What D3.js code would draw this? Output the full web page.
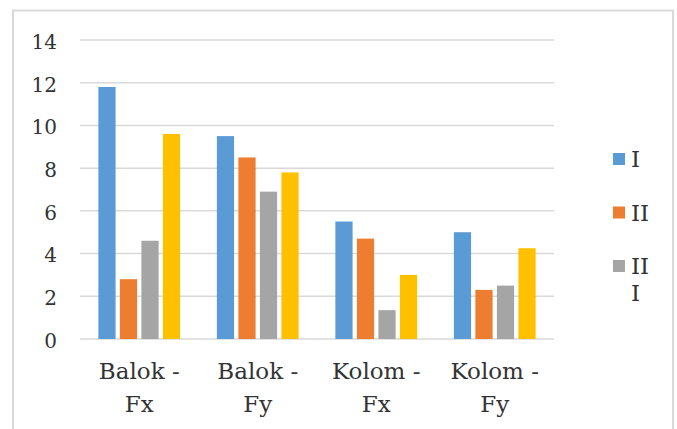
<!DOCTYPE html>
<html>
<head>
<meta charset="utf-8">
<script src="https://cdn.jsdelivr.net/npm/d3@7"></script>
<style>
  html, body { margin: 0; padding: 0; background: #fff; }
  svg { display: block; }
  svg text { font-family: "DejaVu Serif", serif; fill: #333333; }
</style>
</head>
<body>
<script>
// Categories (two-line labels) and series values
const categories = ["Balok - Fx", "Balok - Fy", "Kolom - Fx", "Kolom - Fy"];
const categoryLines = [["Balok -", "Fx"], ["Balok -", "Fy"], ["Kolom -", "Fx"], ["Kolom -", "Fy"]];
const seriesNames = ["I", "II", "III", "IV"];
const seriesI   = [11.8, 9.5, 5.5, 5.0];
const seriesII  = [2.8, 8.5, 4.7, 2.3];
const seriesIII = [4.6, 6.9, 1.35, 2.5];
const seriesIV  = [9.6, 7.8, 3.0, 4.25];
const yTicks = [0, 2, 4, 6, 8, 10, 12, 14];
const colors = ["#5b9bd5", "#ed7d31", "#a5a5a5", "#ffc000"];

// Legend entries shown (label lines per entry; the fourth entry falls outside the frame)
const legendLabels = [["I"], ["II"], ["II", "I"]];

const W = 677, H = 429;
const FONT = "'DejaVu Serif', serif";
const svg = d3.select("body").append("svg").attr("width", W).attr("height", H);

// Chart frame
svg.append("rect")
  .attr("x", 13).attr("y", 10.5).attr("width", 660).attr("height", 430)
  .attr("fill", "#fff").attr("stroke", "#d9d9d9").attr("stroke-width", 2);

const plot = { left: 80, right: 554, top: 40, bottom: 339 };

const y = d3.scaleLinear().domain([0, 14]).range([plot.bottom, plot.top]);
const x0 = d3.scaleBand().domain(categories).range([plot.left, plot.right]).padding(0);
const groupW = x0.bandwidth() * 0.69;
const x1 = d3.scaleBand().domain(seriesNames).range([0, groupW]).paddingInner(0.2).paddingOuter(0);

// Gridlines
svg.append("g").selectAll("line").data(yTicks).join("line")
  .attr("x1", plot.left).attr("x2", plot.right)
  .attr("y1", d => y(d)).attr("y2", d => y(d))
  .attr("stroke", "#d9d9d9").attr("stroke-width", 1.5);

// Y tick labels
const yAxis = d3.axisLeft(y).tickValues(yTicks).tickSize(0).tickPadding(0).tickFormat(d3.format("d"));
const yg = svg.append("g").attr("transform", `translate(57,0)`).call(yAxis)
  .attr("font-family", FONT);
yg.select(".domain").remove();
yg.selectAll("text")
  .style("font-family", FONT)
  .attr("font-size", 20)
  .attr("fill", "#333333").attr("dy", "0.42em");

// Bars
const seriesData = [seriesI, seriesII, seriesIII, seriesIV];
const groups = svg.append("g").selectAll("g").data(categories).join("g")
  .attr("transform", d => `translate(${x0(d) + (x0.bandwidth() - groupW) / 2},0)`);
groups.selectAll("rect")
  .data((c, ci) => seriesNames.map((s, si) => ({ s, si, v: seriesData[si][ci] })))
  .join("rect")
  .attr("x", d => x1(d.s))
  .attr("width", x1.bandwidth())
  .attr("y", d => y(d.v))
  .attr("height", d => y(0) - y(d.v))
  .attr("fill", d => colors[d.si]);

// Category labels
const catG = svg.append("g").selectAll("text").data(categories).join("text")
  .attr("text-anchor", "middle")
  .style("font-family", FONT)
  .attr("font-size", 23);
catG.selectAll("tspan").data((c, i) => categoryLines[i]).join("tspan")
  .attr("x", function() { const c = d3.select(this.parentNode).datum(); return x0(c) + x0.bandwidth() / 2; })
  .attr("y", (d, i) => 379 + i * 32.5)
  .text(d => d);

// Legend
const legendY = [159, 212.5, 266];
const lg = svg.append("g").selectAll("g").data(legendLabels).join("g")
  .attr("transform", (d, i) => `translate(613,${legendY[i]})`);
lg.append("rect").attr("x", 0).attr("y", -6).attr("width", 12).attr("height", 12)
  .attr("fill", (d, i) => colors[i]);
lg.append("text").attr("font-size", 23).style("font-family", FONT)
  .selectAll("tspan").data(d => d).join("tspan")
  .attr("x", 18).attr("y", (d, i) => 8 + i * 27)
  .text(d => d);
</script>
</body>
</html>
